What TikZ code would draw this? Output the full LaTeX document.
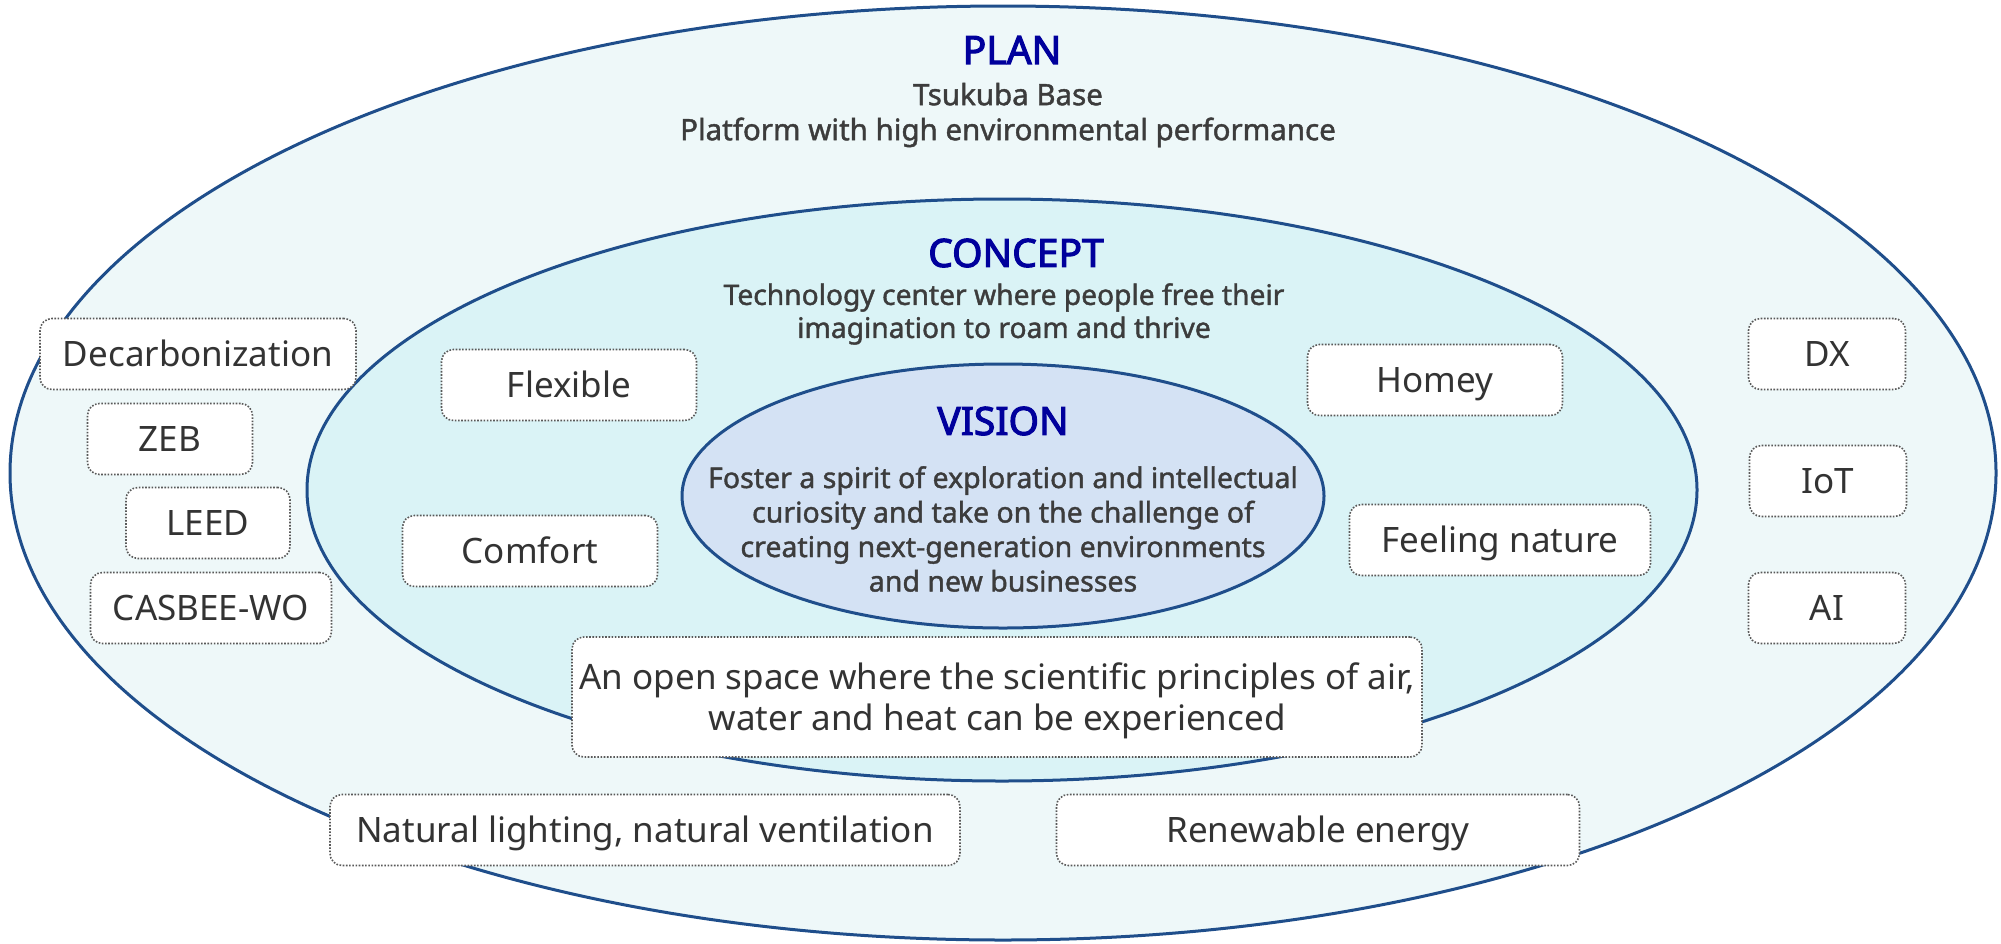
\documentclass[tikz,border=0pt]{standalone}
\usepackage{fontspec}
\setmainfont{Noto Sans}
\newfontfamily\headfont{Noto Sans}[FakeBold=2.8]
\newfontfamily\subfont{Noto Sans}[FakeBold=1.4]
\usepackage{tikz}
\usetikzlibrary{positioning, shapes.geometric}
\definecolor{rim}{HTML}{1F4E8B}
\definecolor{planfill}{HTML}{EEF8F9}
\definecolor{conceptfill}{HTML}{DAF3F6}
\definecolor{visionfill}{HTML}{D4E2F4}
\definecolor{headblue}{HTML}{00009C}
\definecolor{subgray}{HTML}{3C3C3C}
\definecolor{textgray}{HTML}{333333}

\begin{document}
\begin{tikzpicture}[x=1pt, y=-1pt,
  ring/.style={ellipse, draw=rim, line width=3pt, inner sep=0pt},
  tagbase/.style={rectangle, rounded corners=12pt, draw=black!65, line width=1.6pt, dash pattern=on 1.6pt off 1.6pt, fill=white, text=textgray, inner sep=0pt, align=center, font=\fontsize{35}{41}\selectfont},
  tag/.style={tagbase, minimum height=71pt, text height=25pt, text depth=0pt},
  head/.style={text=headblue, inner sep=0pt, font=\headfont\fontsize{39}{48}\selectfont},
  sub/.style={text=subgray, inner sep=0pt, align=center, font=\subfont\fontsize{29.5}{35}\selectfont}]
  \useasboundingbox (0, 0) rectangle (2001, 943);

  \node[ring, fill=planfill, minimum width=1986pt, minimum height=934pt] (plan) at (1003, 473) {};
  \node[ring, fill=conceptfill, minimum width=1390pt, minimum height=582pt] (concept) at (1002, 490) {};
  \node[ring, fill=visionfill, minimum width=642pt, minimum height=264pt] (vision) at (1003, 496) {};

  \node[head] (planhead) at (1012, 50) {PLAN};
  \node[sub] (plantext) at (1008, 115) {Tsukuba Base\\Platform with high environmental performance};
  \node[head] (concepthead) at (1016, 253) {CONCEPT};
  \node[sub, font=\subfont\fontsize{28.2}{33}\selectfont] (concepttext) at (1004, 314) {Technology center where people free their\\imagination to roam and thrive};
  \node[head] (visionhead) at (1003, 421) {VISION};
  \node[sub, font=\subfont\fontsize{28.5}{34.5}\selectfont] (visiontext) at (1003, 529) {Foster a spirit of exploration and intellectual\\curiosity and take on the challenge of\\creating next-generation environments\\and new businesses};

  \node[tag, minimum width=316pt] (decarb) at (198, 354) {Decarbonization};
  \node[tag, minimum width=165pt] (zeb) at (170, 439) {ZEB};
  \node[tag, minimum width=164pt] (leed) at (208, 523) {LEED};
  \node[tag, minimum width=241pt] (casbee) at (211, 608) {CASBEE-WO};

  \node[tag, minimum width=157pt] (dx) at (1827, 354) {DX};
  \node[tag, minimum width=157pt] (iot) at (1828, 481) {IoT};
  \node[tag, minimum width=157pt] (ai) at (1827, 608) {AI};

  \node[tag, minimum width=255pt] (flexible) at (569, 385) {Flexible};
  \node[tag, minimum width=255pt] (comfort) at (530, 551) {Comfort};
  \node[tag, minimum width=255pt] (homey) at (1435, 380) {Homey};
  \node[tag, minimum width=301pt] (nature) at (1500, 540) {Feeling nature};

  \node[tagbase, minimum width=850pt, minimum height=120pt, text depth=0pt] (openspace) at (997, 697) {An open space where the scientific principles of air,\\water and heat can be experienced};

  \node[tag, minimum width=630pt] (lighting) at (645, 830) {Natural lighting, natural ventilation};
  \node[tag, minimum width=523pt] (renewable) at (1318, 830) {Renewable energy};
\end{tikzpicture}
\end{document}
